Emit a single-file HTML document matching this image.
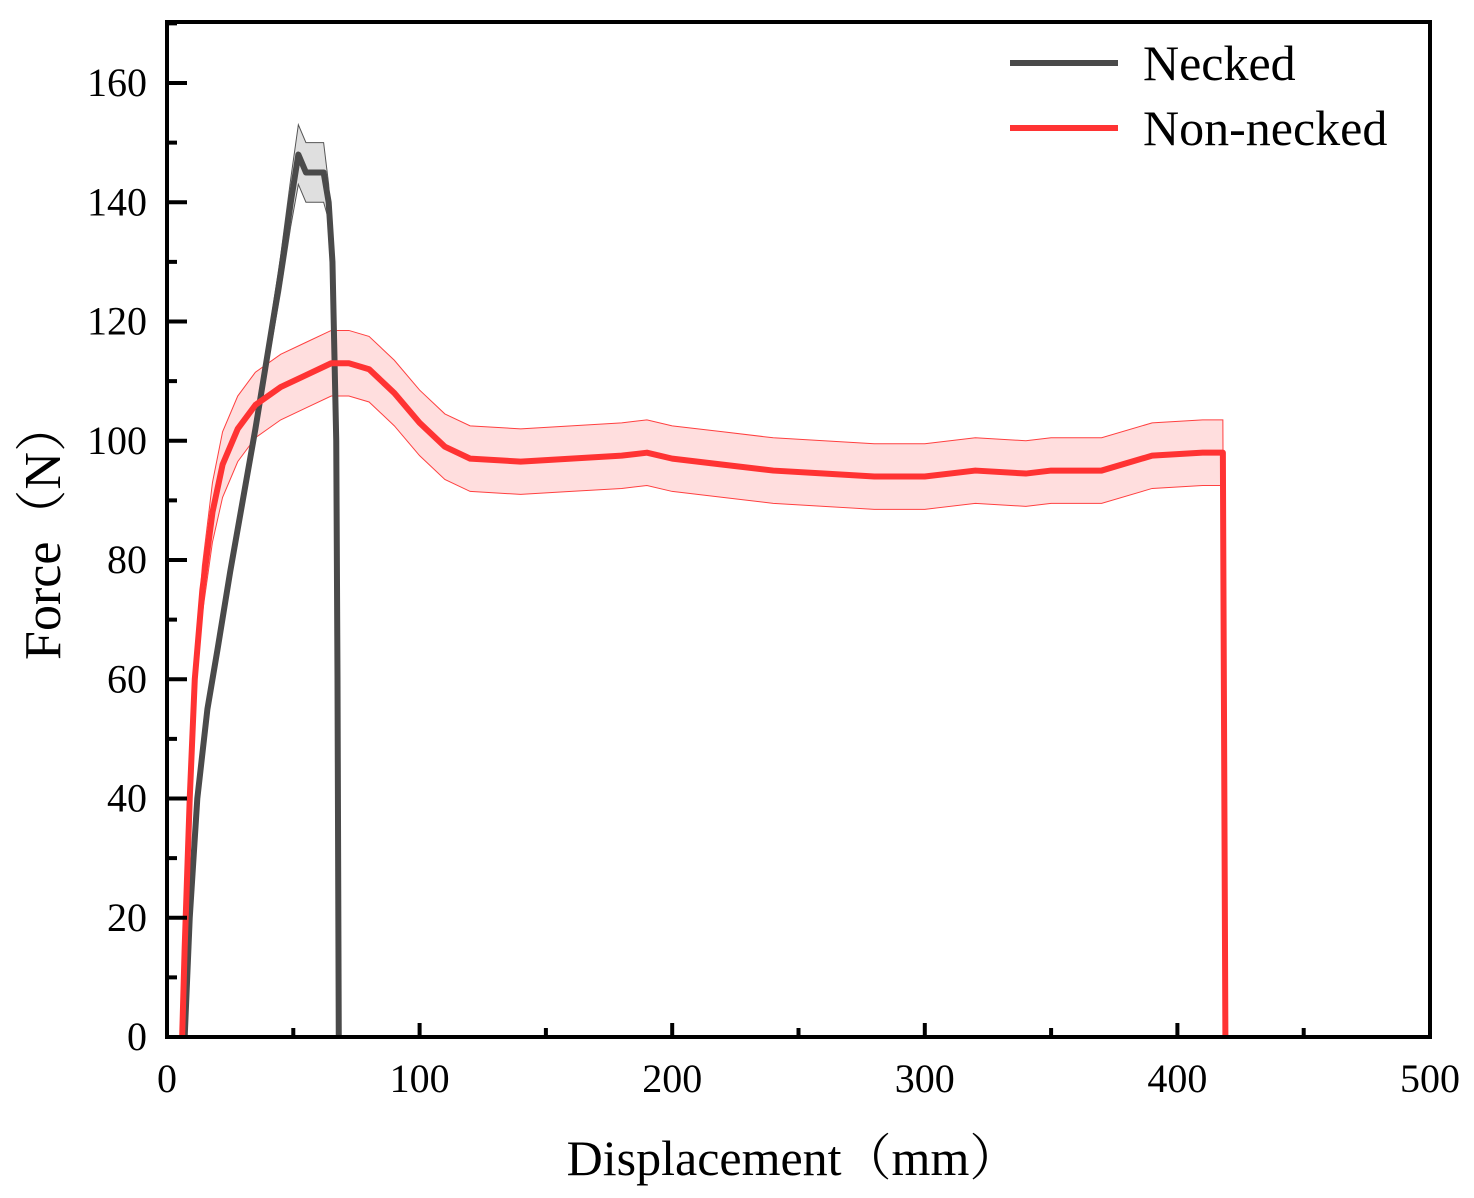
<!DOCTYPE html>
<html><head><meta charset="utf-8"><style>
body{margin:0;background:#fff}
svg{display:block;font-family:"Liberation Serif","Noto Serif CJK SC",serif}
</style></head><body>
<svg id="chart" width="1474" height="1198">
<g id="bands"></g><g id="lines"></g><g id="axes"></g>
</svg>
<script>
const xTicks=[0,100,200,300,400,500];
const yTicks=[0,20,40,60,80,100,120,140,160];
const neckedX=[7,9,12,16,20,25,30,35,40,45,49,52,55,58,62,64,65.5,67,67.5,68];
const neckedY=[0,20,40,55,65,78,90,102,115,128,140,148,145,145,145,140,130,100,60,0];
const neckedErr=[0,1,2,2,2,2,2,2,2,3,4,5,5,5,5,3,1,0,0,0];
const redX=[6,7,9,11,14,18,22,28,35,45,55,65,72,80,90,100,110,120,140,160,180,190,200,220,240,260,280,300,320,340,350,370,390,410,418,419];
const redY=[0,15,40,60,75,88,96,102,106,109,111,113,113,112,108,103,99,97,96.5,97,97.5,98,97,96,95,94.5,94,94,95,94.5,95,95,97.5,98,98,0];
const redErr=[0,1,2,3,4,5,5.5,5.5,5.5,5.5,5.5,5.5,5.5,5.5,5.5,5.5,5.5,5.5,5.5,5.5,5.5,5.5,5.5,5.5,5.5,5.5,5.5,5.5,5.5,5.5,5.5,5.5,5.5,5.5,5.5,0];
const L=167,R=1430,T=22,B=1037;
const sx=v=>L+(R-L)*v/500, sy=v=>B-(B-83)*v/160;
const NS='http://www.w3.org/2000/svg';
function mk(tag,attrs,parent){const e=document.createElementNS(NS,tag);for(const k in attrs)e.setAttribute(k,attrs[k]);parent.appendChild(e);return e;}
const bands=document.getElementById('bands'),lines=document.getElementById('lines'),axes=document.getElementById('axes');
function band(X,Y,E,fill,stroke,name){
  let up=X.map((x,i)=>sx(x)+','+sy(Y[i]+E[i]));
  let lo=X.map((x,i)=>sx(x)+','+sy(Math.max(0,Y[i]-E[i]))).reverse();
  const p=mk('polygon',{points:up.concat(lo).join(' '),fill:fill,stroke:stroke,'stroke-width':1},bands);
  
  
}
function line(X,Y,color,name){
  const p=mk('polyline',{points:X.map((x,i)=>sx(x)+','+sy(Y[i])).join(' '),fill:'none',stroke:color,'stroke-width':6,'stroke-linejoin':'round'},lines);
  
  
}
band(redX,redY,redErr,'rgba(255,60,60,0.17)','#ff4040','non-necked-band');
band(neckedX,neckedY,neckedErr,'rgba(80,80,80,0.18)','#555','necked-band');
line(neckedX,neckedY,'#4a4a4a','necked-line');
line(redX,redY,'#ff3333','non-necked-line');
const frame=mk('rect',{x:L,y:T,width:R-L,height:B-T,fill:'none',stroke:'#000','stroke-width':4},axes);


for(let v=0;v<=500;v+=50){
  const major=v%100===0;
  mk('line',{x1:sx(v),x2:sx(v),y1:B,y2:B-(major?14:9),stroke:'#000','stroke-width':4},axes);
}
xTicks.forEach(v=>{
  const t=mk('text',{x:sx(v),y:1092,'font-size':40,'text-anchor':'middle'},axes);t.textContent=v;
  
  
});
for(let v=0;v<=170;v+=10){
  const major=v%20===0;
  mk('line',{x1:L,x2:L+(major?20:10),y1:sy(v),y2:sy(v),stroke:'#000','stroke-width':4},axes);
}
yTicks.forEach(v=>{
  const t=mk('text',{x:147,y:sy(v)+13,'font-size':40,'text-anchor':'end'},axes);t.textContent=v;
  
  
});
const xt=mk('text',{x:793,y:1175,'font-size':50,'text-anchor':'middle'},axes);xt.textContent='Displacement（mm）';


const yt=mk('text',{x:0,y:0,'font-size':52,'text-anchor':'middle',transform:'translate(60,530) rotate(-90)'},axes);yt.textContent='Force（N）';


[['Necked','#4a4a4a',63],['Non-necked','#ff3333',128]].forEach(([n,c,y])=>{
  const g=mk('g',{},axes);
  
  
  mk('line',{x1:1010,x2:1118,y1:y,y2:y,stroke:c,'stroke-width':6},g);
  const t=mk('text',{x:1143,y:y+17,'font-size':50},g);t.textContent=n;
});
</script>
</body></html>
